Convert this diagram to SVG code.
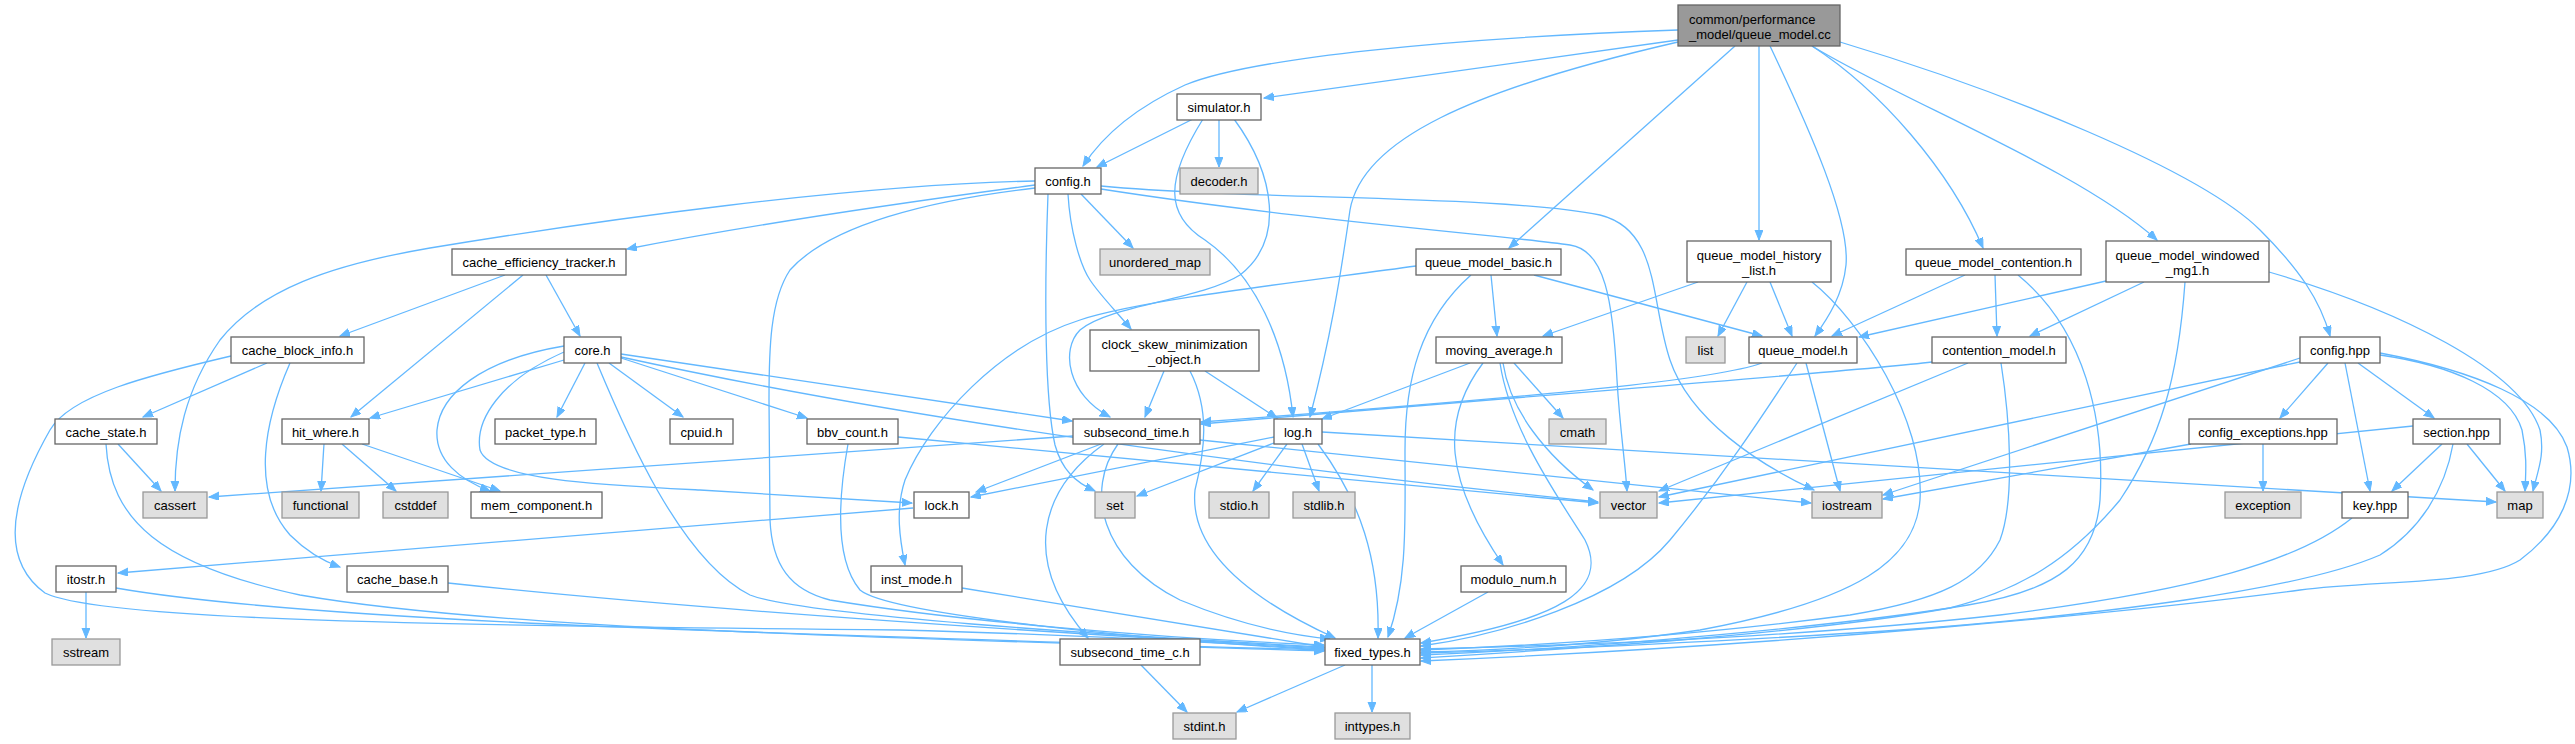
<svg xmlns="http://www.w3.org/2000/svg" width="2575" height="744" viewBox="0 0 2575 744">
<style>
.node rect{fill:#ffffff;stroke:#666666;stroke-width:1.3}
.sys rect{fill:#e0e0e0;stroke:#999999;stroke-width:1.3}
.root rect{fill:#999999;stroke:#666666;stroke-width:1.3}
text{font-family:"Liberation Sans",Arial,Helvetica,sans-serif;font-size:13px;fill:#000000;text-anchor:middle}
.edges path{fill:none;stroke:#63b8ff;stroke-width:1.3;marker-end:url(#arr)}
</style>
<defs>
<marker id="arr" markerUnits="userSpaceOnUse" markerWidth="11" markerHeight="9" refX="10" refY="4" orient="auto">
<path d="M0,0 L10,4 L0,8 Z" fill="#63b8ff" stroke="#63b8ff" stroke-width="1"/>
</marker>
</defs>
<rect width="2575" height="744" fill="#ffffff"/>
<g class="edges">
<!-- root -->
<path d="M1678,30 C1450,38 1250,58 1185,85 C1130,110 1100,140 1083,166"/>
<path d="M1678,40 L1264,98"/>
<path d="M1678,42 C1470,90 1362,140 1350,210 C1340,280 1330,340 1310,417"/>
<path d="M1735,46 L1509,248"/>
<path d="M1759,46 L1759,240"/>
<path d="M1770,46 C1810,130 1850,220 1846,265 C1843,295 1828,318 1815,336"/>
<path d="M1812,46 C1880,90 1950,170 1983,248"/>
<path d="M1812,46 C1900,100 2080,170 2157,240"/>
<path d="M1840,42 C2000,90 2200,170 2260,230 C2300,270 2320,300 2330,336"/>
<!-- simulator -->
<path d="M1193,119 L1097,167"/>
<path d="M1219,119 L1219,167"/>
<path d="M1203,119 C1165,180 1165,215 1205,240 C1255,275 1285,340 1293,417"/>
<path d="M1234,119 C1275,175 1285,240 1240,275 C1200,300 1110,305 1080,330 C1060,350 1068,395 1110,417"/>
<!-- config.h -->
<path d="M1035,181 C850,185 600,220 430,248 C330,265 260,290 220,340 C185,390 175,440 175,491"/>
<path d="M1035,185 C900,203 750,225 627,249"/>
<path d="M1035,188 C930,200 830,225 790,270 C770,300 769,350 769,400 L770,520 C772,565 790,590 830,600 C950,620 1150,638 1324,645"/>
<path d="M1048,194 C1044,300 1045,400 1055,445 C1062,470 1075,482 1095,491"/>
<path d="M1068,194 C1070,230 1080,265 1090,280 C1100,295 1115,310 1131,329"/>
<path d="M1081,194 L1133,248"/>
<path d="M1101,189 C1300,220 1500,235 1570,245 C1605,250 1613,300 1617,380 C1620,430 1625,460 1627,491"/>
<path d="M1101,186 C1250,200 1500,195 1600,215 C1660,230 1650,300 1670,360 C1690,420 1760,465 1814,490"/>
<!-- queue_model_basic -->
<path d="M1416,266 C1300,282 1140,300 1080,320 C1000,345 930,420 905,480 C895,510 900,540 905,565"/>
<path d="M1491,275 L1497,336"/>
<path d="M1534,275 L1762,336"/>
<path d="M1471,275 C1420,320 1405,380 1405,450 C1405,520 1408,580 1388,637"/>
<!-- queue_model_history_list -->
<path d="M1698,282 L1543,336"/>
<path d="M1747,282 L1718,336"/>
<path d="M1770,282 L1792,336"/>
<path d="M1812,282 C1860,320 1925,420 1920,500 C1915,560 1860,600 1700,630 C1600,645 1500,650 1421,652"/>
<!-- queue_model_contention -->
<path d="M1965,275 L1832,336"/>
<path d="M1995,275 L1997,336"/>
<path d="M2018,275 C2085,330 2105,420 2100,500 C2095,560 2060,590 1968,605 C1850,625 1600,648 1421,655"/>
<!-- windowed -->
<path d="M2106,281 L1859,337"/>
<path d="M2144,282 L2030,336"/>
<path d="M2185,282 C2178,380 2160,440 2120,500 C2070,560 2020,590 1950,608 C1800,635 1550,650 1421,658"/>
<path d="M2269,272 C2400,310 2520,370 2540,430 C2545,455 2538,470 2533,491"/>
<!-- config.hpp -->
<path d="M2328,363 L2280,418"/>
<path d="M2345,363 L2370,491"/>
<path d="M2358,363 L2434,418"/>
<path d="M2380,355 C2450,365 2510,390 2522,430 C2527,455 2526,470 2525,491"/>
<path d="M2380,353 C2470,370 2550,400 2567,447 C2580,490 2560,530 2520,560 C2480,585 2380,580 2300,590 C2150,610 1800,645 1421,661"/>
<path d="M2300,358 L1883,495"/>
<path d="M2300,362 L1659,497"/>
<!-- config_exceptions -->
<path d="M2263,444 L2263,491"/>
<path d="M2191,444 L1883,499"/>
<!-- section -->
<path d="M2413,426 L1659,503"/>
<path d="M2442,444 L2392,491"/>
<path d="M2467,444 L2505,491"/>
<path d="M2453,444 C2445,490 2420,530 2380,555 C2300,590 2100,615 1900,630 C1750,640 1550,650 1421,653"/>
<!-- key -->
<path d="M2352,518 C2300,560 2200,590 2000,615 C1800,637 1600,645 1421,649"/>
<!-- contention_model -->
<path d="M1932,362 C1850,372 1600,390 1201,424"/>
<path d="M1968,363 L1659,491"/>
<path d="M2001,363 C2010,420 2015,500 2000,540 C1980,580 1940,600 1850,615 C1700,635 1550,645 1421,650"/>
<!-- queue_model.h -->
<path d="M1762,363 C1720,378 1600,392 1201,422"/>
<path d="M1806,363 L1840,491"/>
<path d="M1797,363 C1760,420 1720,480 1670,540 C1620,600 1500,635 1421,646"/>
<!-- moving_average -->
<path d="M1470,363 L1322,419"/>
<path d="M1514,363 L1563,418"/>
<path d="M1503,363 C1510,410 1545,455 1593,490"/>
<path d="M1483,363 C1440,420 1445,480 1503,565"/>
<path d="M1500,363 C1510,430 1560,500 1585,540 C1610,590 1560,620 1421,643"/>
<!-- modulo -->
<path d="M1488,592 L1405,638"/>
<!-- fixed_types / subsecond_time_c -->
<path d="M1345,665 L1237,712"/>
<path d="M1372,665 L1372,712"/>
<path d="M1141,665 L1187,712"/>
<!-- log.h -->
<path d="M1274,437 L971,497"/>
<path d="M1274,443 L1137,496"/>
<path d="M1287,444 L1253,491"/>
<path d="M1302,444 L1319,491"/>
<path d="M1318,444 C1360,500 1380,560 1378,638"/>
<path d="M1322,432 L2496,502"/>
<!-- subsecond_time.h -->
<path d="M1101,444 L976,492"/>
<path d="M1200,440 L1811,503"/>
<path d="M1073,436 L209,497"/>
<path d="M1104,444 C1040,490 1020,560 1088,638"/>
<path d="M1118,444 C1085,490 1100,560 1180,600 C1240,625 1290,635 1330,639"/>
<!-- clock_skew -->
<path d="M1164,371 L1145,417"/>
<path d="M1205,371 L1277,418"/>
<path d="M1190,371 C1210,410 1205,450 1195,490 C1190,540 1230,590 1335,638"/>
<!-- lock / inst_mode / itostr -->
<path d="M913,508 L118,573"/>
<path d="M962,588 L1324,647"/>
<path d="M86,592 L86,638"/>
<path d="M116,588 C300,620 700,632 1324,650"/>
<!-- cache_base / cache_state / hit_where -->
<path d="M448,583 C700,610 1000,630 1324,648"/>
<path d="M118,444 L161,491"/>
<path d="M106,444 C110,520 160,565 300,595 C500,630 900,638 1324,651"/>
<path d="M324,444 L321,491"/>
<path d="M342,444 L396,491"/>
<path d="M362,444 L500,491"/>
<!-- cache_block_info -->
<path d="M267,363 L143,417"/>
<path d="M290,363 C265,420 250,490 290,535 C305,550 320,560 340,567"/>
<path d="M231,356 C150,375 70,395 50,430 C10,500 0,560 45,593 C90,615 300,625 900,630 C1100,635 1250,645 1324,649"/>
<!-- cache_efficiency_tracker -->
<path d="M505,275 L340,336"/>
<path d="M523,275 L351,417"/>
<path d="M546,275 L580,336"/>
<!-- core.h -->
<path d="M564,360 L370,418"/>
<path d="M564,346 C480,360 440,395 437,430 C435,460 460,480 490,491"/>
<path d="M564,352 C500,380 475,420 480,450 C490,480 600,485 700,490 C800,496 860,500 912,503"/>
<path d="M585,363 L557,417"/>
<path d="M609,363 L683,417"/>
<path d="M621,358 L807,418"/>
<path d="M621,354 L1072,421"/>
<path d="M621,357 Q1000,440 1598,502"/>
<path d="M597,363 C625,430 680,560 750,595 C800,615 1100,635 1324,647"/>
<!-- bbv_count -->
<path d="M898,437 L1598,503"/>
<path d="M848,444 C838,500 835,560 860,590 C890,615 1150,640 1324,650"/>
</g>
<g id="n_root" class="root"><rect x="1678" y="5" width="162" height="41"/><text x="1689" y="23.5" style="text-anchor:start">common/performance</text><text x="1689" y="38.5" style="text-anchor:start">_model/queue_model.cc</text></g>
<g id="n_simulator_h" class="node"><rect x="1177" y="94" width="84" height="26"/><text x="1219" y="111.5">simulator.h</text></g>
<g id="n_config_h" class="node"><rect x="1035" y="168" width="66" height="26"/><text x="1068" y="185.5">config.h</text></g>
<g id="n_decoder_h" class="sys"><rect x="1180" y="168" width="78" height="26"/><text x="1219" y="185.5">decoder.h</text></g>
<g id="n_cache_efficiency_tracker_h" class="node"><rect x="452" y="249" width="174" height="26"/><text x="539" y="266.5">cache_efficiency_tracker.h</text></g>
<g id="n_unordered_map" class="sys"><rect x="1100" y="249" width="110" height="26"/><text x="1155" y="266.5">unordered_map</text></g>
<g id="n_queue_model_basic_h" class="node"><rect x="1416" y="249" width="145" height="26"/><text x="1488.5" y="266.5">queue_model_basic.h</text></g>
<g id="n_queue_model_history_list_h" class="node"><rect x="1687" y="241" width="144" height="41"/><text x="1759" y="259.5">queue_model_history</text><text x="1759" y="274.5">_list.h</text></g>
<g id="n_queue_model_contention_h" class="node"><rect x="1906" y="249" width="175" height="26"/><text x="1993.5" y="266.5">queue_model_contention.h</text></g>
<g id="n_queue_model_windowed_mg1_h" class="node"><rect x="2106" y="241" width="163" height="41"/><text x="2187.5" y="259.5">queue_model_windowed</text><text x="2187.5" y="274.5">_mg1.h</text></g>
<g id="n_cache_block_info_h" class="node"><rect x="231" y="337" width="133" height="26"/><text x="297.5" y="354.5">cache_block_info.h</text></g>
<g id="n_core_h" class="node"><rect x="564" y="337" width="57" height="26"/><text x="592.5" y="354.5">core.h</text></g>
<g id="n_clock_skew_minimization_object_h" class="node"><rect x="1090" y="330" width="169" height="41"/><text x="1174.5" y="348.5">clock_skew_minimization</text><text x="1174.5" y="363.5">_object.h</text></g>
<g id="n_moving_average_h" class="node"><rect x="1436" y="337" width="126" height="26"/><text x="1499" y="354.5">moving_average.h</text></g>
<g id="n_list" class="sys"><rect x="1686" y="337" width="39" height="26"/><text x="1705.5" y="354.5">list</text></g>
<g id="n_queue_model_h" class="node"><rect x="1749" y="337" width="108" height="26"/><text x="1803" y="354.5">queue_model.h</text></g>
<g id="n_contention_model_h" class="node"><rect x="1932" y="337" width="134" height="26"/><text x="1999" y="354.5">contention_model.h</text></g>
<g id="n_config_hpp" class="node"><rect x="2300" y="337" width="80" height="26"/><text x="2340" y="354.5">config.hpp</text></g>
<g id="n_cache_state_h" class="node"><rect x="55" y="419" width="102" height="25"/><text x="106" y="436.5">cache_state.h</text></g>
<g id="n_hit_where_h" class="node"><rect x="282" y="419" width="87" height="25"/><text x="325.5" y="436.5">hit_where.h</text></g>
<g id="n_packet_type_h" class="node"><rect x="495" y="419" width="101" height="25"/><text x="545.5" y="436.5">packet_type.h</text></g>
<g id="n_cpuid_h" class="node"><rect x="670" y="419" width="63" height="25"/><text x="701.5" y="436.5">cpuid.h</text></g>
<g id="n_bbv_count_h" class="node"><rect x="807" y="419" width="91" height="25"/><text x="852.5" y="436.5">bbv_count.h</text></g>
<g id="n_subsecond_time_h" class="node"><rect x="1073" y="419" width="127" height="25"/><text x="1136.5" y="436.5">subsecond_time.h</text></g>
<g id="n_log_h" class="node"><rect x="1274" y="419" width="48" height="25"/><text x="1298" y="436.5">log.h</text></g>
<g id="n_cmath" class="sys"><rect x="1549" y="419" width="57" height="25"/><text x="1577.5" y="436.5">cmath</text></g>
<g id="n_config_exceptions_hpp" class="node"><rect x="2189" y="419" width="148" height="25"/><text x="2263" y="436.5">config_exceptions.hpp</text></g>
<g id="n_section_hpp" class="node"><rect x="2413" y="419" width="87" height="25"/><text x="2456.5" y="436.5">section.hpp</text></g>
<g id="n_cassert" class="sys"><rect x="143" y="492" width="64" height="26"/><text x="175" y="509.5">cassert</text></g>
<g id="n_functional" class="sys"><rect x="282" y="492" width="77" height="26"/><text x="320.5" y="509.5">functional</text></g>
<g id="n_cstddef" class="sys"><rect x="383" y="492" width="65" height="26"/><text x="415.5" y="509.5">cstddef</text></g>
<g id="n_mem_component_h" class="node"><rect x="471" y="492" width="131" height="26"/><text x="536.5" y="509.5">mem_component.h</text></g>
<g id="n_lock_h" class="node"><rect x="914" y="492" width="55" height="26"/><text x="941.5" y="509.5">lock.h</text></g>
<g id="n_set" class="sys"><rect x="1095" y="492" width="40" height="26"/><text x="1115" y="509.5">set</text></g>
<g id="n_stdio_h" class="sys"><rect x="1209" y="492" width="60" height="26"/><text x="1239" y="509.5">stdio.h</text></g>
<g id="n_stdlib_h" class="sys"><rect x="1293" y="492" width="62" height="26"/><text x="1324" y="509.5">stdlib.h</text></g>
<g id="n_vector" class="sys"><rect x="1600" y="492" width="57" height="26"/><text x="1628.5" y="509.5">vector</text></g>
<g id="n_iostream" class="sys"><rect x="1812" y="492" width="70" height="26"/><text x="1847" y="509.5">iostream</text></g>
<g id="n_exception" class="sys"><rect x="2225" y="492" width="76" height="26"/><text x="2263" y="509.5">exception</text></g>
<g id="n_key_hpp" class="node"><rect x="2342" y="492" width="66" height="26"/><text x="2375" y="509.5">key.hpp</text></g>
<g id="n_map" class="sys"><rect x="2497" y="492" width="46" height="26"/><text x="2520" y="509.5">map</text></g>
<g id="n_itostr_h" class="node"><rect x="56" y="566" width="60" height="26"/><text x="86" y="583.5">itostr.h</text></g>
<g id="n_cache_base_h" class="node"><rect x="347" y="566" width="101" height="26"/><text x="397.5" y="583.5">cache_base.h</text></g>
<g id="n_inst_mode_h" class="node"><rect x="871" y="566" width="91" height="26"/><text x="916.5" y="583.5">inst_mode.h</text></g>
<g id="n_modulo_num_h" class="node"><rect x="1461" y="566" width="105" height="26"/><text x="1513.5" y="583.5">modulo_num.h</text></g>
<g id="n_sstream" class="sys"><rect x="52" y="639" width="68" height="26"/><text x="86" y="656.5">sstream</text></g>
<g id="n_subsecond_time_c_h" class="node"><rect x="1060" y="639" width="140" height="26"/><text x="1130" y="656.5">subsecond_time_c.h</text></g>
<g id="n_fixed_types_h" class="node"><rect x="1325" y="639" width="95" height="26"/><text x="1372.5" y="656.5">fixed_types.h</text></g>
<g id="n_stdint_h" class="sys"><rect x="1173" y="713" width="63" height="26"/><text x="1204.5" y="730.5">stdint.h</text></g>
<g id="n_inttypes_h" class="sys"><rect x="1335" y="713" width="75" height="26"/><text x="1372.5" y="730.5">inttypes.h</text></g>
</svg>
